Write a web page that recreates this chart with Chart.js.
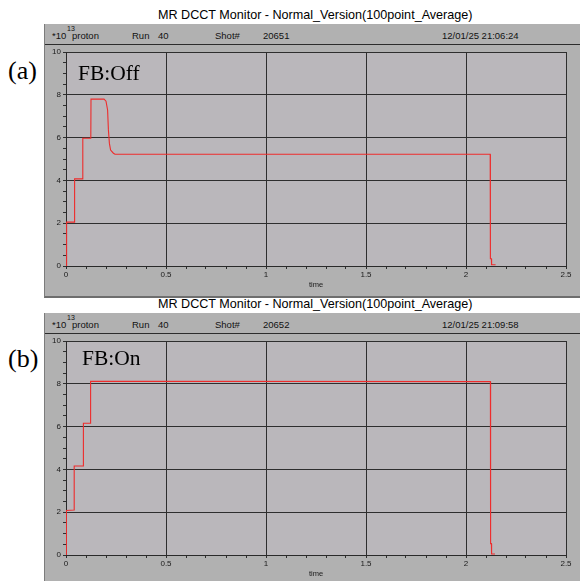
<!DOCTYPE html>
<html>
<head>
<meta charset="utf-8">
<script src="https://cdn.jsdelivr.net/npm/chart.js@4"></script>
<style>
  body { margin:0; width:580px; height:581px; overflow:hidden; background:#fff; position:relative;
         font-family:"Liberation Sans", Arial, sans-serif; }
  .abs { position:absolute; white-space:nowrap; line-height:1; }
  .frame { position:absolute; left:44px; width:536px; background:#b1b1b1;
           border-left:1px solid #7c7c7c; box-sizing:border-box; }
  .hline { position:absolute; left:45px; width:535px; height:1px; background:#2c2c2c; }
  .title { font-size:12.6px; color:#000; }
  .hdr { font-size:9.5px; color:#111; }
  .sup { font-size:7px; color:#111; }
  .lab { font-family:"Liberation Serif", "Times New Roman", serif; font-size:26px; color:#000; }
  .fb { font-family:"Liberation Serif", "Times New Roman", serif; font-size:21.5px; color:#000; }
  .cv { position:absolute; left:45px; width:535px; }
</style>
</head>
<body>

<!-- panel (a) -->
<div class="frame" style="top:24px;height:274px;border-bottom:2px solid #6e6e6e"></div>
<div class="hline" style="top:44px"></div>
<div class="abs title" style="left:158px;top:9px">MR DCCT Monitor - Normal_Version(100point_Average)</div>
<div class="abs hdr" style="left:52px;top:31px">*10</div>
<div class="abs sup" style="left:67px;top:25px">13</div>
<div class="abs hdr" style="left:72px;top:31px">proton</div>
<div class="abs hdr" style="left:132px;top:31px">Run</div>
<div class="abs hdr" style="left:158px;top:31px">40</div>
<div class="abs hdr" style="left:215px;top:31px">Shot#</div>
<div class="abs hdr" style="left:263px;top:31px">20651</div>
<div class="abs hdr" style="left:442px;top:31px">12/01/25 21:06:24</div>
<div class="cv" style="top:45px;height:252px"><canvas id="chartA"></canvas></div>
<div class="abs lab" style="left:8px;top:58px">(a)</div>
<div class="abs fb" style="left:78px;top:63px">FB:Off</div>

<!-- panel (b) -->
<div class="frame" style="top:313px;height:270px"></div>
<div class="hline" style="top:333px"></div>
<div class="abs title" style="left:158px;top:298px">MR DCCT Monitor - Normal_Version(100point_Average)</div>
<div class="abs hdr" style="left:52px;top:320px">*10</div>
<div class="abs sup" style="left:67px;top:314px">13</div>
<div class="abs hdr" style="left:72px;top:320px">proton</div>
<div class="abs hdr" style="left:132px;top:320px">Run</div>
<div class="abs hdr" style="left:158px;top:320px">40</div>
<div class="abs hdr" style="left:215px;top:320px">Shot#</div>
<div class="abs hdr" style="left:263px;top:320px">20652</div>
<div class="abs hdr" style="left:442px;top:320px">12/01/25 21:09:58</div>
<div class="cv" style="top:334px;height:252px"><canvas id="chartB"></canvas></div>
<div class="abs lab" style="left:8px;top:346px">(b)</div>
<div class="abs fb" style="left:82px;top:348px">FB:On</div>

<script>
// -------- DADOS --------
// (a) FB:Off  - tempo (s) e intensidade (*10^13 proton)
const tempoA = [0, 0.003, 0.042, 0.043, 0.083, 0.084, 0.124, 0.125, 0.19, 0.2, 0.208, 0.212, 0.217,
                0.223, 0.237, 0.245, 2.121, 2.122, 2.127, 2.128, 2.148];
const intensA = [0, 2.05, 2.05, 4.07, 4.07, 5.97, 5.97, 7.8, 7.8, 7.7, 7.29, 6.36, 5.73,
                 5.42, 5.27, 5.22, 5.22, 0.34, 0.34, 0.06, 0.06];

// (b) FB:On
const tempoB = [0, 0.002, 0.04, 0.041, 0.086, 0.087, 0.122, 0.123, 2.122, 2.123, 2.127, 2.128, 2.145];
const intensB = [0, 2.08, 2.1, 4.16, 4.16, 6.16, 6.16, 8.12, 8.1, 0.53, 0.53, 0.05, 0.05];

// eixos
const xMin = 0, xMax = 2.5, xPasso = 0.1;
const yMin = 0, yMax = 10, yPasso = 0.5;
const xRotulo = "time";

// -------- CHART --------
const fundoArea = {
  id: "fundoArea",
  beforeDraw(chart) {
    const { ctx, chartArea: a } = chart;
    ctx.save();
    ctx.fillStyle = "#bab7bb";
    ctx.fillRect(a.left, a.top, a.right - a.left, a.bottom - a.top);
    ctx.restore();
  }
};

function ehMaiorX(v) { return Math.abs(v * 2 - Math.round(v * 2)) < 1e-6; }
function ehMaiorY(v) { return Math.abs(v / 2 - Math.round(v / 2)) < 1e-6; }

function criarGrafico(id, tempos, valores) {
  const pontos = tempos.map((t, i) => ({ x: t, y: valores[i] }));
  return new Chart(document.getElementById(id).getContext("2d"), {
    type: "line",
    data: {
      datasets: [{
        data: pontos,
        borderColor: "#ee2c2c",
        borderWidth: 1.1,
        pointRadius: 0,
        tension: 0,
        fill: false
      }]
    },
    options: {
      responsive: true,
      maintainAspectRatio: false,
      animation: false,
      layout: { padding: { top: 7, right: 14, left: 0, bottom: 0 } },
      plugins: { legend: { display: false }, tooltip: { enabled: false } },
      scales: {
        x: {
          type: "linear",
          min: xMin, max: xMax,
          afterFit(s) { s.height = 31; },
          border: { color: "#2a2a2a", width: 1 },
          grid: {
            color: (c) => (c.tick && ehMaiorX(c.tick.value) ? "#2e2e2e" : "rgba(0,0,0,0)"),
            tickColor: "#2e2e2e",
            tickLength: 3
          },
          ticks: {
            stepSize: xPasso,
            autoSkip: false,
            maxRotation: 0,
            padding: 1,
            color: "#1a1a1a",
            font: { family: "Liberation Sans, Arial, sans-serif", size: 8 },
            callback: (v) => (ehMaiorX(v) ? String(Math.round(v * 10) / 10) : "")
          },
          title: {
            display: true,
            text: xRotulo,
            color: "#1a1a1a",
            padding: { top: 2, bottom: 8 },
            font: { family: "Liberation Sans, Arial, sans-serif", size: 7.5 }
          }
        },
        y: {
          min: yMin, max: yMax,
          afterFit(s) { s.width = 21; },
          border: { color: "#2a2a2a", width: 1 },
          grid: {
            color: (c) => (c.tick && ehMaiorY(c.tick.value) ? "#2e2e2e" : "rgba(0,0,0,0)"),
            tickColor: "#2e2e2e",
            tickLength: 3
          },
          ticks: {
            stepSize: yPasso,
            autoSkip: false,
            padding: 2,
            color: "#1a1a1a",
            font: { family: "Liberation Sans, Arial, sans-serif", size: 8 },
            callback: (v) => (ehMaiorY(v) ? String(Math.round(v)) : "")
          }
        }
      }
    },
    plugins: [fundoArea]
  });
}

criarGrafico("chartA", tempoA, intensA);
criarGrafico("chartB", tempoB, intensB);
</script>
</body>
</html>
